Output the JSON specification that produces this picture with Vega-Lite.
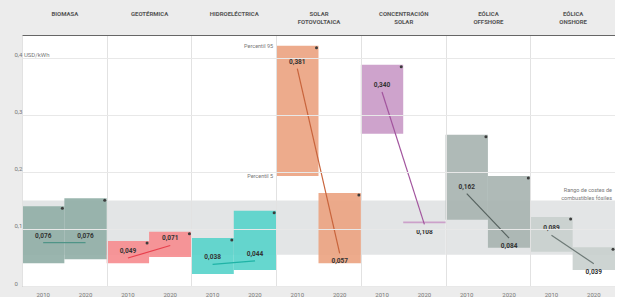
{
  "$schema": "https://vega.github.io/schema/vega-lite/v6.json",
  "background": "#ececec",
  "padding": {"left": 14, "top": 10, "right": 0, "bottom": 0},
  "width": 593,
  "height": 251,
  "config": {
    "locale": {"number": {"decimal": ",", "thousands": ".", "grouping": [3], "currency": ["", " $"]}},
    "view": {"fill": "white", "stroke": null},
    "font": "Roboto"
  },
  "data": {"values": [
    {"orden": 1, "tecnologia": "BIOMASA", "clave": "1-2010", "anio": "2010", "lcoe": 0.076, "p5": 0.040, "p95": 0.140, "tendencia": "igual", "fosil_min": 0.055, "fosil_max": 0.150},
    {"orden": 1, "tecnologia": "BIOMASA", "clave": "1-2020", "anio": "2020", "lcoe": 0.076, "p5": 0.047, "p95": 0.154, "tendencia": "igual", "fosil_min": 0.055, "fosil_max": 0.150},
    {"orden": 2, "tecnologia": "GEOTÉRMICA", "clave": "2-2010", "anio": "2010", "lcoe": 0.049, "p5": 0.040, "p95": 0.079, "tendencia": "sube", "fosil_min": 0.055, "fosil_max": 0.150},
    {"orden": 2, "tecnologia": "GEOTÉRMICA", "clave": "2-2020", "anio": "2020", "lcoe": 0.071, "p5": 0.051, "p95": 0.095, "tendencia": "sube", "fosil_min": 0.055, "fosil_max": 0.150},
    {"orden": 3, "tecnologia": "HIDROELÉCTRICA", "clave": "3-2010", "anio": "2010", "lcoe": 0.038, "p5": 0.021, "p95": 0.084, "tendencia": "sube", "fosil_min": 0.055, "fosil_max": 0.150},
    {"orden": 3, "tecnologia": "HIDROELÉCTRICA", "clave": "3-2020", "anio": "2020", "lcoe": 0.044, "p5": 0.028, "p95": 0.132, "tendencia": "sube", "fosil_min": 0.055, "fosil_max": 0.150},
    {"orden": 4, "tecnologia": "SOLAR|FOTOVOLTAICA", "clave": "4-2010", "anio": "2010", "lcoe": 0.381, "p5": 0.193, "p95": 0.421, "tendencia": "baja", "fosil_min": 0.055, "fosil_max": 0.150, "nota_sup": "Percentil 95", "nota_inf": "Percentil 5"},
    {"orden": 4, "tecnologia": "SOLAR|FOTOVOLTAICA", "clave": "4-2020", "anio": "2020", "lcoe": 0.057, "p5": 0.040, "p95": 0.163, "tendencia": "baja", "fosil_min": 0.055, "fosil_max": 0.150},
    {"orden": 5, "tecnologia": "CONCENTRACIÓN|SOLAR", "clave": "5-2010", "anio": "2010", "lcoe": 0.340, "p5": 0.267, "p95": 0.388, "tendencia": "baja", "fosil_min": 0.055, "fosil_max": 0.150},
    {"orden": 5, "tecnologia": "CONCENTRACIÓN|SOLAR", "clave": "5-2020", "anio": "2020", "lcoe": 0.108, "p5": 0.110, "p95": 0.113, "tendencia": "baja", "fosil_min": 0.055, "fosil_max": 0.150},
    {"orden": 6, "tecnologia": "EÓLICA|OFFSHORE", "clave": "6-2010", "anio": "2010", "lcoe": 0.162, "p5": 0.116, "p95": 0.265, "tendencia": "baja", "fosil_min": 0.055, "fosil_max": 0.150},
    {"orden": 6, "tecnologia": "EÓLICA|OFFSHORE", "clave": "6-2020", "anio": "2020", "lcoe": 0.084, "p5": 0.067, "p95": 0.193, "tendencia": "baja", "fosil_min": 0.055, "fosil_max": 0.150},
    {"orden": 7, "tecnologia": "EÓLICA|ONSHORE", "clave": "7-2010", "anio": "2010", "lcoe": 0.089, "p5": 0.060, "p95": 0.121, "tendencia": "baja", "fosil_min": 0.055, "fosil_max": 0.150},
    {"orden": 7, "tecnologia": "EÓLICA|ONSHORE", "clave": "7-2020", "anio": "2020", "lcoe": 0.039, "p5": 0.028, "p95": 0.068, "tendencia": "baja", "fosil_min": 0.055, "fosil_max": 0.150, "nota_fosil": "Rango de costes de|combustibles fósiles"}
  ]},
  "layer": [
    {
      "mark": {"type": "rect", "color": "#e3e5e6"},
      "encoding": {
        "x": {
          "field": "tecnologia", "type": "nominal",
          "sort": {"field": "orden", "op": "min"},
          "scale": {"paddingInner": 0, "paddingOuter": 0},
          "axis": {
            "orient": "top", "title": null,
            "labelExpr": "datum.value ? split(datum.value, '|') : ''",
            "labelFontSize": 6, "labelFontWeight": "bold", "labelColor": "#555",
            "labelAngle": 0, "labelBaseline": "middle", "labelLineHeight": 8.5,
            "labelPadding": 22, "labelLimit": 0,
            "ticks": false, "tickBand": "extent",
            "grid": true, "gridColor": "#e2e2e2",
            "domain": true, "domainColor": "#666"
          }
        },
        "y": {
          "aggregate": "min", "field": "fosil_min", "type": "quantitative",
          "scale": {"domain": [0, 0.44], "nice": false, "zero": true},
          "axis": {
            "title": null, "values": [0, 0.1, 0.2, 0.3, 0.4], "format": ".1f",
            "labelExpr": "datum.value >= 0.39 ? '0,4 USD/kWh' : (datum.value == 0 ? '0' : datum.label)",
            "labelAlign": "left", "labelBaseline": "bottom", "labelPadding": 8,
            "ticks": false, "domain": false, "grid": true, "gridColor": "#e8e8e8",
            "labelFontSize": 6, "labelColor": "#777", "zindex": 1
          }
        },
        "y2": {"aggregate": "max", "field": "fosil_max"}
      }
    },
    {
      "layer": [
        {
          "mark": {"type": "bar", "opacity": 0.9},
          "encoding": {
            "x": {
              "field": "clave", "type": "nominal",
              "sort": "ascending",
              "scale": {"paddingInner": 0, "paddingOuter": 0},
              "axis": {
                "title": null, "labelExpr": "split(datum.value, '-')[1]",
                "labelFontSize": 6, "labelColor": "#777", "ticks": false,
                "domainColor": "#666", "labelAngle": 0, "labelPadding": 5, "grid": false
              }
            },
            "y": {"field": "p5", "type": "quantitative"},
            "y2": {"field": "p95"},
            "color": {
              "field": "tecnologia", "type": "nominal", "legend": null,
              "scale": {
                "domain": ["BIOMASA", "GEOTÉRMICA", "HIDROELÉCTRICA", "SOLAR|FOTOVOLTAICA", "CONCENTRACIÓN|SOLAR", "EÓLICA|OFFSHORE", "EÓLICA|ONSHORE"],
                "range": ["#8fada5", "#f68b8e", "#55d3ca", "#eba280", "#c999c6", "#a6b2af", "#c8cfcd"]
              }
            }
          }
        },
        {
          "mark": {"type": "line", "strokeWidth": 1.2},
          "encoding": {
            "x": {"field": "clave", "type": "nominal", "sort": "ascending"},
            "y": {"field": "lcoe", "type": "quantitative"},
            "color": {
              "field": "tecnologia", "type": "nominal", "legend": null,
              "scale": {
                "domain": ["BIOMASA", "GEOTÉRMICA", "HIDROELÉCTRICA", "SOLAR|FOTOVOLTAICA", "CONCENTRACIÓN|SOLAR", "EÓLICA|OFFSHORE", "EÓLICA|ONSHORE"],
                "range": ["#4f9487", "#e8404d", "#1fb3a6", "#c8643c", "#a2559e", "#56625f", "#6e7a77"]
              }
            }
          }
        },
        {
          "transform": [{"filter": "datum.p95 - datum.p5 > 0.01"}],
          "mark": {"type": "point", "filled": true, "size": 9, "color": "#3c3c3c", "opacity": 1, "xOffset": -2, "yOffset": 2},
          "encoding": {
            "x": {"field": "clave", "type": "nominal", "sort": "ascending", "bandPosition": 1},
            "y": {"field": "p95", "type": "quantitative"}
          }
        },
        {
          "transform": [{"filter": "datum.anio == '2010' || datum.tendencia != 'baja'"}],
          "mark": {"type": "text", "dy": -7, "fontSize": 6.5, "fontWeight": "bold", "color": "#333"},
          "encoding": {
            "x": {"field": "clave", "type": "nominal", "sort": "ascending"},
            "y": {"field": "lcoe", "type": "quantitative"},
            "text": {"field": "lcoe", "type": "quantitative", "format": ".3f"}
          }
        },
        {
          "transform": [{"filter": "datum.anio == '2020' && datum.tendencia == 'baja'"}],
          "mark": {"type": "text", "dy": 8, "fontSize": 6.5, "fontWeight": "bold", "color": "#333"},
          "encoding": {
            "x": {"field": "clave", "type": "nominal", "sort": "ascending"},
            "y": {"field": "lcoe", "type": "quantitative"},
            "text": {"field": "lcoe", "type": "quantitative", "format": ".3f"}
          }
        },
        {
          "transform": [{"filter": "isValid(datum.nota_sup)"}],
          "mark": {"type": "text", "align": "right", "dx": -3, "fontSize": 5.5, "color": "#777"},
          "encoding": {
            "x": {"field": "clave", "type": "nominal", "sort": "ascending", "bandPosition": 0},
            "y": {"field": "p95", "type": "quantitative"},
            "text": {"field": "nota_sup"}
          }
        },
        {
          "transform": [{"filter": "isValid(datum.nota_inf)"}],
          "mark": {"type": "text", "align": "right", "dx": -3, "fontSize": 5.5, "color": "#777"},
          "encoding": {
            "x": {"field": "clave", "type": "nominal", "sort": "ascending", "bandPosition": 0},
            "y": {"field": "p5", "type": "quantitative"},
            "text": {"field": "nota_inf"}
          }
        },
        {
          "transform": [{"filter": "isValid(datum.nota_fosil)"}],
          "mark": {"type": "text", "align": "right", "baseline": "bottom", "dx": -3, "dy": -7, "fontSize": 5.5, "color": "#777", "lineBreak": "|", "lineHeight": 8},
          "encoding": {
            "x": {"field": "clave", "type": "nominal", "sort": "ascending", "bandPosition": 1},
            "y": {"field": "fosil_max", "type": "quantitative"},
            "text": {"field": "nota_fosil"}
          }
        }
      ],
      "resolve": {"scale": {"color": "independent"}}
    }
  ],
  "resolve": {"scale": {"x": "independent"}}
}
